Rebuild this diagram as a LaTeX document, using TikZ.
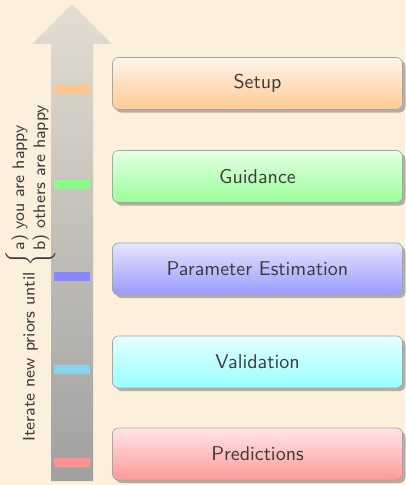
\documentclass[tikz,border=0pt]{standalone}
\usetikzlibrary{shadows}
\definecolor{bgcream}{HTML}{FCF0DC}
\definecolor{arrowtop}{HTML}{E3DDD1}
\definecolor{arrowbot}{HTML}{A0A0A0}
\definecolor{txtgray}{HTML}{3C3C3C}
\definecolor{skybar}{RGB}{136,212,240}
\newcommand{\boxtxt}[1]{\scalebox{2.0}{\fontsize{10}{12}\selectfont\sffamily #1}}
\begin{document}
\begin{tikzpicture}[x=1pt,y=-1pt,
  stage/.style={draw=black!35, line width=0.7pt, rounded corners=6pt,
    minimum width=290pt, minimum height=52pt, inner sep=0pt, text=txtgray,
    drop shadow={shadow xshift=3pt, shadow yshift=-3pt, fill=black, opacity=0.28}},
  marker/.style={minimum width=36pt, minimum height=9pt, inner sep=0pt, draw=none}]
\fill[bgcream] (0,0) rectangle (405,485);
\useasboundingbox (0,0) rectangle (405,485);
% big arrow
\shade[top color=arrowtop, bottom color=arrowbot]
  (72,4) -- (112,44) -- (93,44) -- (93,481) -- (51,481) -- (51,44) -- (32,44) -- cycle;
% markers
\node[marker, fill=orange!45] (m1) at (72,89.5) {};
\node[marker, fill=green!47] (m2) at (72,184.5) {};
\node[marker, fill=blue!47] (m3) at (72,276.5) {};
\node[marker, fill=skybar] (m4) at (72,369.5) {};
\node[marker, fill=red!43] (m5) at (72,462.5) {};
% stages
\node[stage, top color=orange!8, bottom color=orange!42] (setup) at (257.5,83.5) {\boxtxt{Setup}};
\node[stage, top color=green!10, bottom color=green!40] (guid) at (257.5,176.5) {\boxtxt{Guidance}};
\node[stage, top color=blue!10, bottom color=blue!40] (param) at (257.5,269) {\boxtxt{Parameter Estimation}};
\node[stage, top color=cyan!10, bottom color=cyan!40] (valid) at (257.5,362) {\boxtxt{Validation}};
\node[stage, top color=red!10, bottom color=red!40] (pred) at (257.5,454) {\boxtxt{Predictions}};
% side label
\node[rotate=90, inner sep=0pt, text=txtgray] (iter) at (30.5,272)
  {\scalebox{2.1}{\fontsize{8}{10}\selectfont\sffamily Iterate new priors until $\left\{\begin{tabular}{@{}l@{}}a) you are happy\\ b) others are happy\end{tabular}\right.$}};
\end{tikzpicture}
\end{document}
